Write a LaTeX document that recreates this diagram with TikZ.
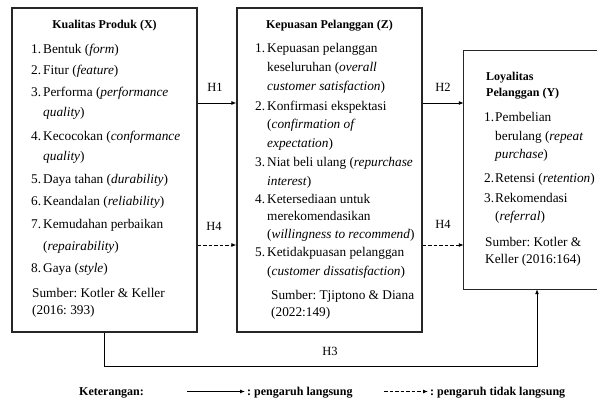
\documentclass[tikz,border=0pt]{standalone}
\usepackage{fontspec}
\setmainfont{Liberation Serif}[UprightFont={Liberation Serif}, BoldFont={Liberation Serif Bold}, ItalicFont={Liberation Serif Italic}, BoldItalicFont={Liberation Serif Bold Italic}]
\newfontfamily\tms{Liberation Serif}
\usetikzlibrary{arrows.meta}
\frenchspacing
\begin{document}
\begin{tikzpicture}[x=1pt,y=-1pt,
 box/.style={draw=black!85, line width=1.2pt, inner sep=0pt},
 ttl/.style={font=\tms\fontsize{12}{14}\selectfont\bfseries, inner sep=0pt, anchor=base},
 txt/.style={font=\tms\fontsize{13.3}{15}\selectfont, anchor=base west, inner sep=0pt},
 hl/.style={font=\tms\fontsize{12.5}{14}\selectfont, inner sep=0pt, anchor=base},
 conn/.style={line width=0.9pt, -{Latex[length=5pt,width=4pt]}},
 dconn/.style={conn, dash pattern=on 3.5pt off 2pt},
 leg/.style={font=\tms\fontsize{12}{14}\selectfont\bfseries, inner sep=0pt, anchor=base west}]
\useasboundingbox[fill=white] (0,0) rectangle (597,398);
\clip (0,0) rectangle (597,398);
% boxes
\node[box, minimum width=185pt, minimum height=324pt] (X) at (104.5,170) {};
\node[box, minimum width=185pt, minimum height=324pt] (Z) at (329.5,170) {};
\node[inner sep=0pt, minimum width=146pt, minimum height=238pt] (Y) at (537,170) {};
\draw[draw=black!85, line width=1.2pt] (Y.north east) -- (Y.north west) -- (Y.south west) -- (Y.south east);
% X contents
\node[ttl] (xt) at (104.5,29) {Kualitas Produk (X)};
\node[txt] (x1) at (31,54) {\makebox[12pt][l]{1.}Bentuk (\textit{form})};
\node[txt] (x2) at (31,75) {\makebox[12pt][l]{2.}Fitur (\textit{feature})};
\node[txt] (x3) at (31,97) {\makebox[12pt][l]{3.}Performa (\textit{performance}};
\node[txt] (x3b) at (43,117) {\textit{quality})};
\node[txt] (x4) at (31,141) {\makebox[12pt][l]{4.}Kecocokan (\textit{conformance}};
\node[txt] (x4b) at (43,161) {\textit{quality})};
\node[txt] (x5) at (31,184) {\makebox[12pt][l]{5.}Daya tahan (\textit{durability})};
\node[txt] (x6) at (31,206) {\makebox[12pt][l]{6.}Keandalan (\textit{reliability})};
\node[txt] (x7) at (31,229) {\makebox[12pt][l]{7.}Kemudahan perbaikan};
\node[txt] (x7b) at (43,251) {(\textit{repairability})};
\node[txt] (x8) at (31,272) {\makebox[12pt][l]{8.}Gaya (\textit{style})};
\node[txt] (xs1) at (32,297) {Sumber: Kotler \& Keller};
\node[txt] (xs2) at (32,314) {(2016: 393)};
% Z contents
\node[ttl] (zt) at (329.5,29) {Kepuasan Pelanggan (Z)};
\node[txt] (z1) at (255,53) {\makebox[12pt][l]{1.}Kepuasan pelanggan};
\node[txt] (z1b) at (267,72) {keseluruhan (\textit{overall}};
\node[txt] (z1c) at (267,91) {\textit{customer satisfaction})};
\node[txt] (z2) at (255,111) {\makebox[12pt][l]{2.}Konfirmasi ekspektasi};
\node[txt] (z2b) at (267,129) {(\textit{confirmation of}};
\node[txt] (z2c) at (267,148) {\textit{expectation})};
\node[txt] (z3) at (255,167) {\makebox[12pt][l]{3.}Niat beli ulang (\textit{repurchase}};
\node[txt] (z3b) at (267,186) {\textit{interest})};
\node[txt] (z4) at (255,204) {\makebox[12pt][l]{4.}Ketersediaan untuk};
\node[txt] (z4b) at (267,221) {merekomendasikan};
\node[txt] (z4c) at (267,239) {(\textit{willingness to recommend})};
\node[txt] (z5) at (255,257) {\makebox[12pt][l]{5.}Ketidakpuasan pelanggan};
\node[txt] (z5b) at (267,276) {(\textit{customer dissatisfaction})};
\node[txt] (zs1) at (271,299) {Sumber: Tjiptono \& Diana};
\node[txt] (zs2) at (271,316) {(2022:149)};
% Y contents
\node[ttl, anchor=base west] (yt1) at (486,81) {Loyalitas};
\node[ttl, anchor=base west] (yt2) at (486,97) {Pelanggan (Y)};
\node[txt] (y1) at (484,122) {\makebox[11pt][l]{1.}Pembelian};
\node[txt] (y1b) at (495,141) {berulang (\textit{repeat}};
\node[txt] (y1c) at (495,159) {\textit{purchase})};
\node[txt] (y2) at (484,183) {\makebox[11pt][l]{2.}Retensi (\textit{retention})};
\node[txt] (y3) at (484,203) {\makebox[11pt][l]{3.}Rekomendasi};
\node[txt] (y3b) at (495,221) {(\textit{referral})};
\node[txt] (ys1) at (485,247) {Sumber: Kotler \&};
\node[txt] (ys2) at (485,263) {Keller (2016:164)};
% connectors
\draw[conn] (X.east |- 0,103) -- (Z.west |- 0,103);
\draw[conn] (Z.east |- 0,103) -- (Y.west |- 0,103);
\draw[dconn] (X.east |- 0,245) -- (Z.west |- 0,245);
\draw[dconn] (Z.east |- 0,245) -- (Y.west |- 0,245);
\coordinate (h3) at (537,366);
\draw[conn] (X.south) |- (h3) -- (Y.south);
\node[hl] (h1) at (215,92) {H1};
\node[hl] (h2) at (443,92) {H2};
\node[hl] (h4a) at (214,230) {H4};
\node[hl] (h4b) at (443,229) {H4};
\node[hl] (h3l) at (330,355) {H3};
% legend
\node[leg] (k) at (79,395) {Keterangan:};
\coordinate (la1) at (187,391.5);
\coordinate (la2) at (245,391.5);
\draw[conn] (la1) -- (la2);
\node[leg] (l1) at (247,395) {: pengaruh langsung};
\coordinate (lb1) at (384,391.5);
\coordinate (lb2) at (428,391.5);
\draw[dconn] (lb1) -- (lb2);
\node[leg] (l2) at (430,395) {: pengaruh tidak langsung};
\end{tikzpicture}
\end{document}
